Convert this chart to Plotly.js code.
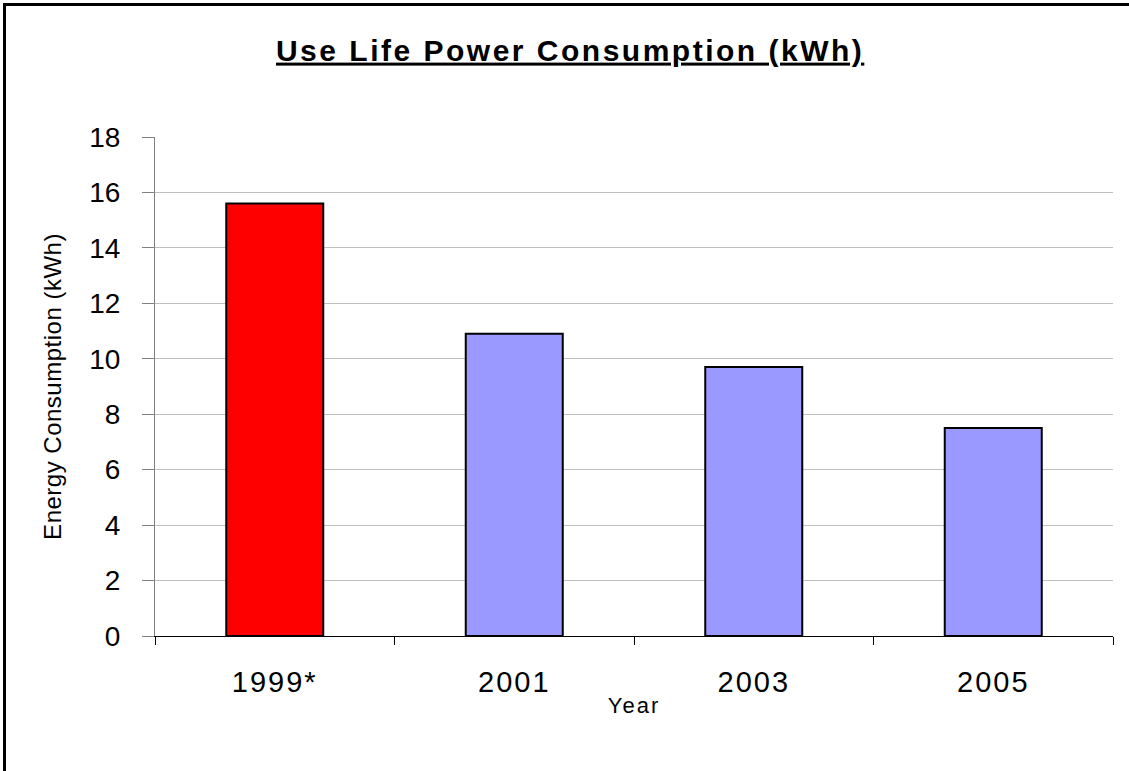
<!DOCTYPE html>
<html>
<head>
<meta charset="utf-8">
<script src="https://cdn.plot.ly/plotly-3.0.1.min.js"></script>
<style>
  html, body { margin: 0; padding: 0; background: #fff; }
  #frame { position: absolute; left: 3px; top: 3px; width: 1126px; height: 768px; border-left: 3px solid #000; border-top: 3px solid #000; box-sizing: border-box; pointer-events: none; }
  #chart { position: absolute; left: 0; top: 0; width: 1129px; height: 771px; }
  .xtick text { letter-spacing: 2px; }
  .gtitle { letter-spacing: 2.5px; }
  .g-xtitle text { letter-spacing: 2px; }
  .g-ytitle text { letter-spacing: 0.5px; }
</style>
</head>
<body>
<div id="chart"></div>
<div id="frame"></div>
<script>
const years = ["1999*", "2001", "2003", "2005"];
const energy = [15.6, 10.9, 9.7, 7.5];
const barColors = ["#FF0000", "#9999FF", "#9999FF", "#9999FF"];

const trace = {
  type: "bar",
  x: years,
  y: energy,
  marker: { color: barColors, line: { color: "#000000", width: 2 } },
  hoverinfo: "x+y"
};

const FONT = "Arial, Liberation Sans, sans-serif";

const layout = {
  width: 1129,
  height: 771,
  margin: { l: 155, r: 16, t: 137, b: 135 },
  paper_bgcolor: "#ffffff",
  plot_bgcolor: "#ffffff",
  font: { family: FONT, color: "#000" },
  title: {
    text: "<b><u>Use Life Power Consumption (kWh)</u></b>",
    font: { size: 30, family: FONT, color: "#000" },
    x: 0.505, xanchor: "center", y: 0.935, yanchor: "middle"
  },
  bargap: 0.595,
  showlegend: false,
  xaxis: {
    type: "category",
    tickson: "boundaries",
    ticks: "outside",
    ticklen: 8,
    tickcolor: "#000",
    showline: true,
    linecolor: "#000",
    linewidth: 1,
    showgrid: false,
    tickfont: { size: 29 },
    ticklabelstandoff: 20,
    title: { text: "Year", font: { size: 22 }, standoff: 0 }
  },
  yaxis: {
    range: [0, 18],
    dtick: 2,
    tick0: 0,
    ticks: "outside",
    ticklen: 12,
    tickcolor: "#808080",
    showline: true,
    linecolor: "#808080",
    linewidth: 1,
    showgrid: true,
    gridcolor: "#c0c0c0",
    zeroline: false,
    tickfont: { size: 28 },
    ticklabelstandoff: 16,
    title: { text: "Energy Consumption (kWh)", font: { size: 24 }, standoff: 20 }
  }
};

Plotly.newPlot("chart", [trace], layout, { displayModeBar: false, staticPlot: true });
</script>
</body>
</html>
